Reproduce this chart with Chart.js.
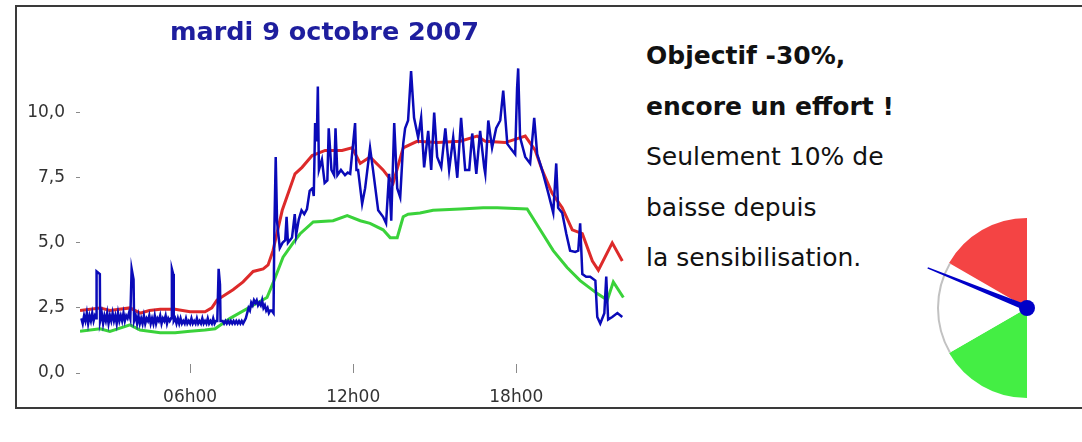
<!DOCTYPE html>
<html>
<head>
<meta charset="utf-8">
<script src="https://cdn.jsdelivr.net/npm/chart.js@4.4.1/dist/chart.umd.min.js"></script>
<style>
  body { margin: 0; background: #fff; width: 1082px; height: 442px; overflow: hidden; position: relative; }
  #frame { position: absolute; left: 15px; top: 5px; width: 1100px; height: 400px; border: 2px solid #3a3a3a; }
  #lineChart { position: absolute; left: 0; top: 0; }
  #gaugeChart { position: absolute; left: 917px; top: 208px; }
  .msg { position: absolute; left: 646px; top: 31px; font-family: 'DejaVu Sans', sans-serif; font-size: 25px; line-height: 50.5px; color: #111; }
  .msg b { font-weight: bold; }
</style>
</head>
<body>
<div id="frame"></div>
<canvas id="lineChart" width="640" height="410"></canvas>
<div class="msg">
  <b>Objectif -30%,</b><br>
  <b>encore un effort !</b><br>
  Seulement 10% de<br>
  baisse depuis<br>
  la sensibilisation.
</div>
<canvas id="gaugeChart" width="130" height="200"></canvas>
<script>
// heures (decimal) et valeurs
const blueHours = [2.00, 2.05, 2.10, 2.15, 2.20, 2.25, 2.30, 2.35, 2.40, 2.45, 2.50, 2.55, 2.56, 2.68, 2.69, 2.75, 2.80, 2.85, 2.90, 2.95,
  3.00, 3.05, 3.10, 3.15, 3.20, 3.25, 3.30, 3.35, 3.40, 3.45, 3.50, 3.55, 3.60, 3.65, 3.70, 3.75, 3.80, 3.85, 3.92, 3.94,
  4.00, 4.05, 4.10, 4.15, 4.20, 4.25, 4.30, 4.35, 4.40, 4.45, 4.50, 4.55, 4.60, 4.65, 4.70, 4.75, 4.80, 4.85, 4.90, 4.95,
  5.00, 5.05, 5.10, 5.15, 5.20, 5.25, 5.30, 5.33, 5.38, 5.40, 5.45, 5.50, 5.55, 5.60, 5.65, 5.70, 5.75, 5.80, 5.85, 5.90, 5.95,
  6.00, 6.05, 6.10, 6.15, 6.20, 6.25, 6.30, 6.35, 6.40, 6.45, 6.50, 6.55, 6.60, 6.65, 6.70, 6.75, 6.80, 6.85, 6.90, 6.95,
  7.00, 7.05, 7.10, 7.12, 7.20, 7.25, 7.30, 7.35, 7.40, 7.45, 7.50, 7.55, 7.60, 7.65, 7.70, 7.75, 7.80, 7.85, 7.90, 7.95,
  8.00, 8.05, 8.10, 8.15, 8.20, 8.25, 8.30, 8.35, 8.40, 8.45, 8.50, 8.55, 8.60, 8.65, 8.70, 8.75, 8.80, 8.85, 8.90, 8.95,
  9.00, 9.07, 9.10, 9.15, 9.20, 9.30, 9.40, 9.50, 9.55, 9.60, 9.75, 9.85, 9.90,
  10.00, 10.10, 10.20, 10.30, 10.40, 10.50, 10.55, 10.60, 10.66, 10.70, 10.74, 10.85, 10.95, 11.05, 11.10, 11.20, 11.30, 11.35, 11.42, 11.55, 11.70, 11.80,
  11.89, 12.07, 12.12, 12.18, 12.33, 12.44, 12.62, 12.73, 12.92, 13.10, 13.21, 13.32, 13.40, 13.51, 13.62, 13.73, 13.84, 13.91,
  14.02, 14.13, 14.24, 14.39, 14.50, 14.61, 14.76, 14.87, 14.98, 15.09, 15.24, 15.39, 15.53, 15.68, 15.83, 15.97,
  16.12, 16.27, 16.38, 16.53, 16.67, 16.82, 16.86, 16.97, 17.11, 17.26, 17.41, 17.52, 17.67, 17.81, 17.96,
  18.03, 18.07, 18.14, 18.33, 18.51, 18.66, 18.77, 18.95, 19.18, 19.36, 19.47, 19.54, 19.69, 19.84, 19.98,
  20.17, 20.28, 20.35, 20.43, 20.57, 20.72, 20.91, 20.98, 21.09, 21.24, 21.31, 21.38, 21.53, 21.72, 21.90];
const blueValues = [2.1, 1.9, 2.2, 2.0, 2.3, 1.9, 2.2, 2.0, 2.3, 2.0, 2.2, 2.1, 3.9, 3.8, 2.0, 2.3, 1.9, 2.2, 2.0, 2.3,
  1.9, 2.2, 2.0, 2.3, 2.0, 2.2, 1.9, 2.3, 2.0, 2.2, 2.0, 2.3, 2.0, 2.2, 2.1, 2.3, 2.1, 4.0, 3.6, 2.0,
  2.2, 1.9, 2.2, 1.9, 2.1, 1.9, 2.2, 1.9, 2.1, 2.0, 2.2, 1.9, 2.1, 1.9, 2.2, 1.9, 2.1, 2.0, 2.2, 1.9,
  2.1, 2.0, 2.2, 1.9, 2.1, 2.0, 2.1, 4.0, 3.8, 2.0, 2.1, 1.9, 2.1, 1.9, 2.1, 1.9, 2.0, 1.9, 2.1, 1.9, 2.0,
  1.9, 2.1, 1.9, 2.0, 1.9, 2.1, 1.9, 2.0, 1.9, 2.1, 1.9, 2.0, 1.9, 2.1, 1.9, 2.0, 1.9, 2.1, 1.9, 2.0,
  2.0, 4.0, 3.4, 2.0, 2.0, 1.9, 2.0, 1.9, 2.0, 1.9, 2.0, 1.9, 2.0, 1.9, 2.0, 1.9, 2.0, 1.9, 2.0, 1.9,
  2.0, 2.1, 2.3, 2.5, 2.4, 2.7, 2.6, 2.8, 2.7, 2.8, 2.6, 2.7, 2.6, 2.8, 2.5, 2.6, 2.4, 2.5, 2.3, 2.4,
  2.4, 2.3, 5.5, 8.3, 5.8, 4.8, 5.0, 5.1, 6.0, 5.0, 5.2, 6.1, 5.3,
  5.9, 6.25, 6.1, 6.3, 7.0, 7.1, 6.8, 9.6, 8.9, 11.0, 7.8, 8.2, 7.3, 7.4, 9.4, 7.8, 7.6, 9.4, 7.6, 7.8, 7.6, 7.7,
  7.65, 9.6, 7.8, 7.8, 6.5, 7.1, 8.65, 7.8, 6.25, 6.0, 5.75, 7.65, 5.85, 9.6, 7.1, 6.75, 8.8, 9.4,
  9.7, 11.6, 9.8, 9.05, 9.8, 7.9, 9.3, 7.8, 10.0, 8.3, 7.9, 9.4, 7.8, 9.05, 7.5, 9.8,
  7.8, 7.8, 9.2, 7.65, 9.3, 7.9, 7.65, 9.7, 8.65, 9.4, 9.7, 10.85, 8.8, 8.6, 8.4,
  10.95, 11.7, 9.05, 8.3, 8.05, 9.8, 8.4, 7.8, 6.9, 6.15, 8.05, 6.35, 6.15, 5.35, 4.7,
  4.65, 4.7, 5.75, 3.8, 3.7, 3.7, 3.55, 2.15, 1.9, 2.3, 3.7, 2.05, 2.15, 2.3, 2.15];

const redHours = [1.95, 2.69, 3.05, 3.79, 4.16, 4.50, 4.90, 5.45, 6.00, 6.55, 6.80, 6.99, 7.58, 7.95, 8.32, 8.69, 8.87, 9.05, 9.39, 9.86,
  10.12, 10.49, 10.97, 11.59, 11.96, 12.26, 12.62, 13.10, 13.47, 13.84, 14.35, 15.09, 15.94, 16.56, 16.86, 17.59,
  18.33, 18.70, 18.95, 19.32, 19.69, 20.06, 20.43, 20.80, 21.02, 21.53, 21.90];
const redValues = [2.4, 2.5, 2.4, 2.5, 2.3, 2.4, 2.45, 2.45, 2.35, 2.35, 2.5, 2.8, 3.2, 3.5, 3.9, 4.0, 4.15, 4.7, 6.25, 7.65,
  7.9, 8.35, 8.55, 8.55, 8.65, 8.05, 8.3, 7.8, 7.3, 8.65, 8.9, 8.85, 8.9, 9.1, 8.9, 8.85,
  9.1, 8.55, 7.8, 6.9, 6.35, 5.5, 5.35, 4.3, 3.95, 5.0, 4.3];

const greenHours = [1.95, 2.69, 3.05, 3.79, 4.16, 4.90, 5.45, 6.00, 6.55, 6.92, 7.47, 8.32, 8.83, 9.05, 9.42, 9.79,
  10.05, 10.53, 11.26, 11.78, 12.26, 12.62, 13.10, 13.36, 13.62, 13.84, 14.02, 14.46, 14.94, 15.94, 16.78, 17.30,
  18.40, 18.88, 19.36, 19.87, 20.35, 20.98, 21.35, 21.57, 21.94];
const greenValues = [1.6, 1.7, 1.6, 1.85, 1.65, 1.55, 1.55, 1.6, 1.65, 1.7, 2.1, 2.6, 2.9, 3.45, 4.45, 5.0,
  5.35, 5.8, 5.85, 6.05, 5.85, 5.75, 5.5, 5.2, 5.2, 6.0, 6.1, 6.15, 6.25, 6.3, 6.35, 6.35,
  6.3, 5.5, 4.7, 4.05, 3.55, 3.05, 2.8, 3.5, 2.9];

const xTicks = [6, 12, 18];
const yTicks = [0, 2.5, 5, 7.5, 10];

// jauge : zones verte / blanche / rouge, aiguille sur la meme echelle
const gaugeZones = [30, 30, 30];
const gaugeNeedle = 56;

const pts = (hs, vs) => hs.map((h, i) => ({ x: h, y: vs[i] }));
const tickFont = { family: 'DejaVu Sans', size: 17 };

new Chart(document.getElementById('lineChart'), {
  type: 'line',
  data: {
    datasets: [
      { data: pts(blueHours, blueValues), borderColor: '#0a0ab8', borderWidth: 2.5 },
      { data: pts(redHours, redValues), borderColor: '#dd2a2a', borderWidth: 3 },
      { data: pts(greenHours, greenValues), borderColor: '#3ad23a', borderWidth: 3 }
    ]
  },
  options: {
    responsive: false,
    animation: false,
    elements: { point: { radius: 0 }, line: { tension: 0 } },
    layout: { padding: { left: 24, right: 15, top: 0, bottom: 7 } },
    plugins: {
      legend: { display: false },
      tooltip: { enabled: false },
      title: {
        display: true,
        text: 'mardi 9 octobre 2007',
        color: '#1e1e9e',
        font: { family: 'DejaVu Sans', size: 25.5, weight: 'bold' },
        padding: { top: 18, bottom: 12 }
      }
    },
    scales: {
      x: {
        type: 'linear',
        min: 1.95,
        max: 22,
        border: { display: false },
        grid: { drawOnChartArea: false, tickLength: -9, color: '#8a8a8a' },
        afterBuildTicks: s => { s.ticks = xTicks.map(v => ({ value: v })); },
        afterFit: s => { s.height = 30; },
        ticks: {
          padding: 23,
          color: '#333',
          font: tickFont,
          callback: v => String(v).padStart(2, '0') + 'h00'
        }
      },
      y: {
        min: 0,
        max: 12,
        border: { display: false },
        grid: { drawOnChartArea: false, tickLength: 4, color: '#8a8a8a' },
        afterBuildTicks: s => { s.ticks = yTicks.map(v => ({ value: v })); },
        afterFit: s => { s.width = 56; },
        ticks: {
          padding: 11,
          color: '#333',
          font: tickFont,
          callback: v => v.toFixed(1).replace('.', ',')
        }
      }
    }
  }
});

const needlePlugin = {
  id: 'needle',
  afterDatasetsDraw(chart) {
    const arcs = chart.getDatasetMeta(0).data;
    const ctx = chart.ctx;
    const cx = arcs[0].x, cy = arcs[0].y, r = arcs[0].outerRadius;
    // liseret gris sur la zone blanche
    ctx.save();
    ctx.strokeStyle = '#c2c2c2';
    ctx.lineWidth = 2;
    ctx.beginPath();
    ctx.arc(cx, cy, r - 1, arcs[1].startAngle, arcs[1].endAngle);
    ctx.stroke();
    // aiguille
    const total = gaugeZones.reduce((a, b) => a + b, 0);
    const a = arcs[0].startAngle + gaugeNeedle / total * Math.PI;
    const len = r * 1.19;
    const nx = Math.cos(a), ny = Math.sin(a);
    const px = -ny, py = nx;
    ctx.fillStyle = '#0000c8';
    ctx.beginPath();
    ctx.moveTo(cx + px * 3, cy + py * 3);
    ctx.lineTo(cx + nx * len + px * 0.8, cy + ny * len + py * 0.8);
    ctx.lineTo(cx + nx * len - px * 0.8, cy + ny * len - py * 0.8);
    ctx.lineTo(cx - px * 3, cy - py * 3);
    ctx.closePath();
    ctx.fill();
    ctx.beginPath();
    ctx.arc(cx, cy, 8, 0, Math.PI * 2);
    ctx.fill();
    ctx.restore();
  }
};

new Chart(document.getElementById('gaugeChart'), {
  type: 'doughnut',
  data: {
    labels: ['objectif', 'neutre', 'insuffisant'],
    datasets: [{
      data: gaugeZones,
      backgroundColor: ['#44ee44', '#ffffff', '#f44444'],
      borderWidth: 0
    }]
  },
  options: {
    responsive: false,
    animation: false,
    cutout: 0,
    rotation: 180,
    circumference: 180,
    layout: { padding: { left: 20, right: 20, top: 10, bottom: 10 } },
    plugins: { legend: { display: false }, tooltip: { enabled: false } }
  },
  plugins: [needlePlugin]
});
</script>
</body>
</html>
